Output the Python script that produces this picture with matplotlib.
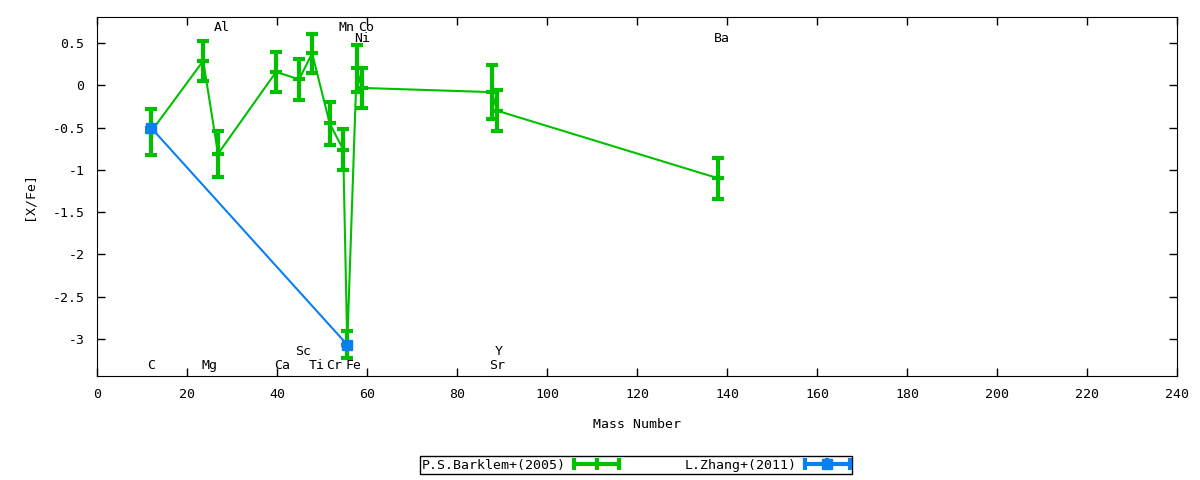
import matplotlib
matplotlib.use('Agg')
import matplotlib.pyplot as plt
from matplotlib.lines import Line2D
from matplotlib.legend_handler import HandlerLine2D

# P.S.Barklem+(2005)
bark_mass = [12.0, 23.6, 26.9, 39.8, 44.9, 47.8, 51.7, 54.7, 55.6, 57.7, 58.8, 87.7, 88.9, 138.0]
bark_xfe = [-0.55, 0.29, -0.81, 0.16, 0.07, 0.38, -0.45, -0.76, -3.07, 0.20, -0.03, -0.08, -0.30, -1.10]
bark_err = [0.27, 0.24, 0.27, 0.24, 0.24, 0.23, 0.25, 0.24, 0.16, 0.28, 0.24, 0.32, 0.245, 0.24]

# L.Zhang+(2011)
zhang_mass = [12.0, 55.6]
zhang_xfe = [-0.50, -3.07]
zhang_err = [0.0, 0.0]

# element labels
elem_names = ['C', 'Mg', 'Al', 'Ca', 'Sc', 'Ti', 'Cr', 'Mn', 'Fe', 'Co', 'Ni', 'Sr', 'Y', 'Ba']
elem_x = [12.0, 25.1, 27.8, 41.1, 45.8, 48.9, 52.6, 55.4, 56.9, 59.9, 58.9, 88.9, 89.3, 138.9]
elem_y = [-3.32, -3.32, 0.69, -3.32, -3.15, -3.32, -3.32, 0.69, -3.32, 0.69, 0.55, -3.32, -3.15, 0.55]

green = '#00c000'
blue = '#0a80f0'

plt.rcParams['font.family'] = ['DejaVu Sans Mono']
plt.rcParams['font.size'] = 9.5

fig = plt.figure(figsize=(12, 4.8), dpi=100)
ax = fig.add_axes([0.0808, 0.2167, 0.9003, 0.748])

ax.errorbar(bark_mass, bark_xfe, yerr=bark_err, color=green, lw=1.5,
            elinewidth=3, capsize=4, capthick=3, marker='_', markersize=8,
            markeredgewidth=3)
ax.errorbar(zhang_mass, zhang_xfe, yerr=zhang_err, color=blue, lw=1.5,
            elinewidth=3, capsize=4, capthick=3, marker='s', markersize=7)

for name, x, y in zip(elem_names, elem_x, elem_y):
    ax.text(x, y, name, ha='center', va='center')

ax.set_xlim(0, 240)
ax.set_ylim(-3.44, 0.81)
ax.set_xticks(range(0, 241, 20))
yt = [0.5, 0, -0.5, -1, -1.5, -2, -2.5, -3]
ax.set_yticks(yt)
ax.set_yticklabels(['%g' % v for v in yt])
ax.tick_params(direction='in', top=True, right=True, length=6, width=1, pad=9)
ax.set_xlabel('Mass Number', labelpad=12)
ax.set_ylabel('[X/Fe]', labelpad=12)

# legend handles drawn like gnuplot error bar keys
g_key = Line2D([], [], color=green, lw=3, marker='|', markersize=8, markeredgewidth=3)
b_key = Line2D([], [], color=blue, lw=3, marker='|', markersize=8, markeredgewidth=3)
b_sq = Line2D([], [], color=blue, lw=0, marker='s', markersize=7)
hmap = {g_key: HandlerLine2D(numpoints=3, marker_pad=0),
        b_key: HandlerLine2D(numpoints=3, marker_pad=0),
        b_sq: HandlerLine2D(numpoints=1)}

leg = fig.legend([g_key, (b_key, b_sq)], ['P.S.Barklem+(2005)', 'L.Zhang+(2011)'],
                 handler_map=hmap, loc='center', bbox_to_anchor=(0.53, 0.031), ncol=2,
                 markerfirst=False, fancybox=False, edgecolor='black',
                 framealpha=1, borderpad=0.2, borderaxespad=0, handlelength=3.4,
                 columnspacing=5, handletextpad=0.6)
leg.get_frame().set_linewidth(1)

fig.savefig('out.png')
